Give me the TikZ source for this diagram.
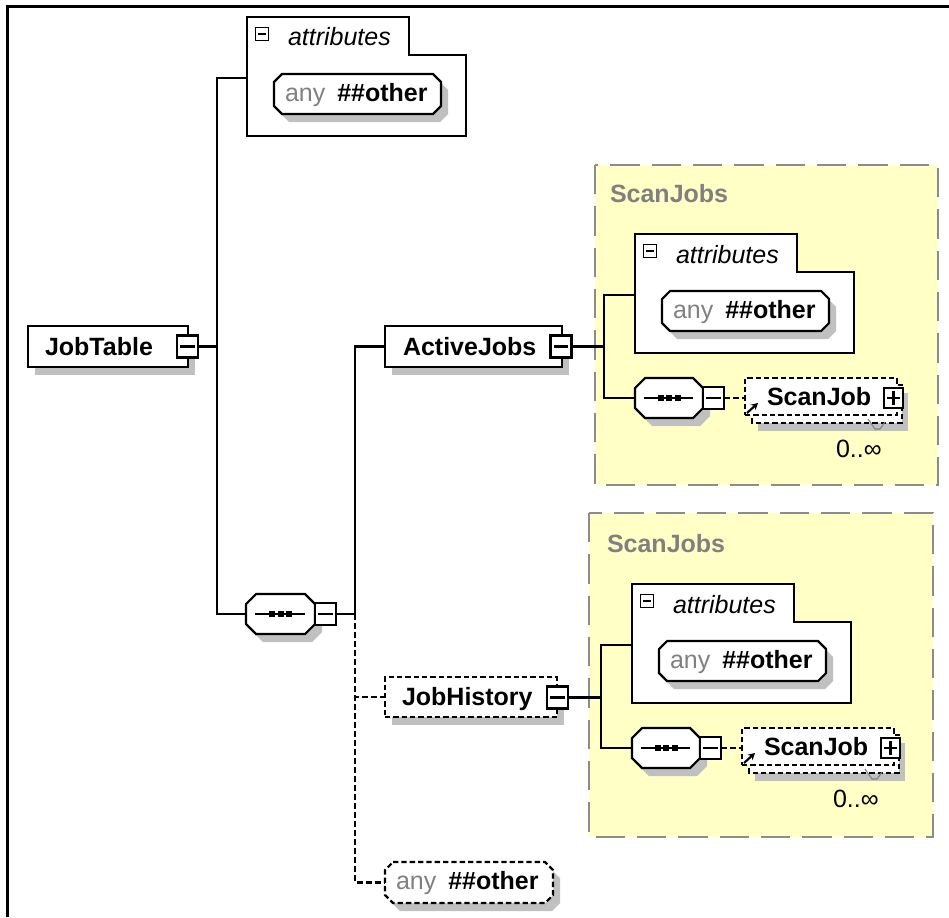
\documentclass[tikz,border=0pt]{standalone}
\usepackage{fontspec}
\setmainfont{Liberation Sans}
\usetikzlibrary{calc,arrows.meta}
\AtBeginDocument{\fontsize{18.75pt}{22pt}\selectfont}

\definecolor{groupfill}{HTML}{FFFFC6}
\definecolor{groupline}{HTML}{8C8C8C}
\definecolor{labelgray}{HTML}{808080}
\definecolor{shadowgray}{HTML}{C0C0C0}

\tikzset{
  elemline/.style={line width=1.6pt, draw=black},
  conn/.style={line width=1.6pt},
  dconn/.style={line width=1.6pt, dash pattern=on 4.5pt off 2.25pt},
  dashedge/.style={dash pattern=on 4pt off 2.25pt},
  shadowfill/.style={fill=shadowgray, draw=none},
  hold/.style={inner sep=0pt, outer sep=0pt, draw=none},
  elembox/.style={hold, elemline, fill=white},
  lbl/.style={inner sep=0pt, outer sep=0pt, anchor=base west},
  togglebox/.style={hold, draw, line width=1.6pt, fill=white,
    minimum width=21*.75pt, minimum height=22*.75pt},
  minussign/.style={path picture={\draw[line width=1.6pt]
    ([xshift=2.5pt]path picture bounding box.west) --
    ([xshift=-2.5pt]path picture bounding box.east);}},
  plussign/.style={path picture={\draw[line width=1.6pt]
    ([xshift=2.5pt]path picture bounding box.west) --
    ([xshift=-2.5pt]path picture bounding box.east)
    ([yshift=-2.5pt]path picture bounding box.north) --
    ([yshift=2.5pt]path picture bounding box.south);}},
  smallminus/.style={path picture={\draw[line width=1.4pt]
    ([xshift=1.8pt]path picture bounding box.west) --
    ([xshift=-1.8pt]path picture bounding box.east);}},
  groupframe/.style={fill=groupfill, draw=groupline, line width=1.5pt,
    dash pattern=on 22pt off 9pt},
}

% octagon with cut corners: style, x1, y1, x2, y2, cut
\newcommand\octpath[6]{%
  \path[#1] ({(#2)+(#6)},{#3}) -- ({(#4)-(#6)},{#3}) -- ({#4},{(#3)+(#6)})
    -- ({#4},{(#5)-(#6)}) -- ({(#4)-(#6)},{#5}) -- ({(#2)+(#6)},{#5})
    -- ({#2},{(#5)-(#6)}) -- ({#2},{(#3)+(#6)}) -- cycle;}

% rectangular element with drop shadow: name, x1, y1, x2, y2, edge style
\newcommand\rectelem[6]{%
  \fill[shadowfill] ({(#2)+7},{(#3)+8}) rectangle ({(#4)+7},{(#5)+8});
  \node[elembox, #6, minimum width={((#4)-(#2))*.75pt},
    minimum height={((#5)-(#3))*.75pt}]
    (#1) at ({((#2)+(#4))/2},{((#3)+(#5))/2}) {};}

% wildcard "any ##other": name, x1, y1, x2, y2, edge style
\newcommand\anyelem[6]{%
  \octpath{shadowfill}{(#2)+7}{(#3)+8}{(#4)+7}{(#5)+8}{8}
  \octpath{elemline, fill=white, #6}{#2}{#3}{#4}{#5}{8}
  \node[hold, minimum width={((#4)-(#2))*.75pt},
    minimum height={((#5)-(#3))*.75pt}]
    (#1) at ({((#2)+(#4))/2},{((#3)+(#5))/2}) {};
  \node[lbl] (#1text) at ({(#2)+11},{((#3)+(#5))/2+7})
    {\textcolor{labelgray}{any}\hspace{9pt}\textbf{\#\#other}};}

% sequence compositor with its collapse box: name, x1, y1, x2, y2
\newcommand\seqelem[5]{%
  \octpath{shadowfill}{(#2)+7}{(#3)+8}{(#4)+7}{(#5)+8}{10}
  \octpath{elemline, fill=white}{#2}{#3}{#4}{#5}{10}
  \node[hold, minimum width={((#4)-(#2))*.75pt},
    minimum height={((#5)-(#3))*.75pt}]
    (#1) at ({((#2)+(#4))/2},{((#3)+(#5))/2}) {};
  \draw[line width=1.6pt] ({(#2)+9},{((#3)+(#5))/2}) -- ({(#4)-10},{((#3)+(#5))/2});
  \foreach \k in {-8.5,0,8.5}
    \fill ({((#2)+(#4))/2+\k-3},{((#3)+(#5))/2-3}) rectangle ++(6,6);
  \node[togglebox, minussign] (#1tog) at ({(#4)+10.5},{((#3)+(#5))/2}) {};}

% attributes container: name, x and y of the tab's top left corner
\newcommand\attrsbox[3]{%
  \draw[elemline, fill=white] (#2,#3) -- ++(162,0) -- ++(0,38) -- ++(57,0)
    -- ++(0,81) -- ++(-219,0) -- cycle;
  \node[hold, minimum width=219*.75pt, minimum height=124*.75pt]
    (#1) at ({(#2)+109.5},{(#3)+61}) {};
  \node[hold, draw, line width=1.4pt, fill=white, smallminus,
    minimum width=13*.75pt, minimum height=13*.75pt]
    (#1tog) at ({(#2)+15},{(#3)+17}) {};
  \node[lbl, font=\itshape] (#1title) at ({(#2)+41},{(#3)+29}) {attributes};
  \anyelem{#1any}{(#2)+27}{(#3)+57}{(#2)+194}{(#3)+97}{}}

% complex type group: name, frame x, y, w, h, content origin x, y
\newcommand\scanjobsgroup[7]{%
  \filldraw[groupframe] (#2,#3) rectangle ++(#4,#5);
  \begin{scope}[shift={(#6,#7)}]
    \node[lbl, font=\bfseries, text=labelgray] (#1label) at (15,37) {ScanJobs};
    \attrsbox{#1attrs}{40}{69}
    \seqelem{#1seq}{40}{213}{108}{253}
    % repeated element: a second outline behind the first one
    \fill[shadowfill] (163,228) rectangle (313,266);
    \draw[elemline, dashedge, fill=white] (157,220) rectangle (307,258);
    \node[elembox, dashedge, minimum width=152*.75pt, minimum height=37*.75pt]
      (#1scanjob) at (226,231.5) {};
    \node[lbl, font=\bfseries] (#1scanjobtext) at (172,240) {ScanJob};
    \node[togglebox, plussign, minimum width=19*.75pt, minimum height=20*.75pt]
      (#1scanjobtog) at (298.5,233) {};
    \draw[line width=1.6pt, -{Stealth[length=5pt,width=5.5pt]}] (152,248) -- (163,238);
    \draw[line width=.8pt, draw=labelgray] (273,254) -- (280,264) -- (285,264) -- (290,257);
    \node[lbl] (#1card) at (241,292) {0..∞};
    \coordinate (#1trunk) at (9,181);
  \end{scope}
  \draw[conn] (#1attrs.west) -| (#1trunk) |- (#1seq.west);
  \draw[dconn] (#1seqtog.east) -- (#1seqtog.east -| #1scanjob.west);}

\begin{document}
\begin{tikzpicture}[x=.75pt,y=-.75pt]
\useasboundingbox (0,0) rectangle (949,917);

% window border
\draw[line width=2pt] (7.5,917) -- (7.5,6.5) -- (949,6.5);

% the two ScanJobs type groups
\scanjobsgroup{gA}{595}{165}{343}{320}{595}{165}
\scanjobsgroup{gB}{589}{513}{344}{324}{592}{515}

% root element JobTable
\attrsbox{topattrs}{247}{17}
\rectelem{jobtable}{28}{326}{188}{367}{}
\node[togglebox, minussign] (jobtabletog) at (187.5,346.5) {};
\node[lbl, font=\bfseries] (jobtabletext) at (45,355) {JobTable};
\seqelem{mainseq}{246}{594}{315}{634}

% children of the sequence
\rectelem{activejobs}{385}{326}{562}{367}{}
\node[togglebox, minussign] (activejobstog) at (561,346.5) {};
\node[lbl, font=\bfseries] (activejobstext) at (403,355) {ActiveJobs};

\rectelem{jobhistory}{385}{677}{557}{717}{dashedge}
\node[togglebox, minussign] (jobhistorytog) at (557.5,697.5) {};
\node[lbl, font=\bfseries] (jobhistorytext) at (402,705) {JobHistory};

\anyelem{otherany}{385}{862}{553}{903}{dashedge}

% connectors
\coordinate (trunkA) at (217,614);
\coordinate (trunkB) at (355,614);
\draw[conn] (topattrs.west) -| (trunkA) -- (mainseq.west);
\draw[conn] (jobtabletog.east) -- (jobtabletog.east -| trunkA);
\draw[conn] (activejobs.west) -| (trunkB) -- (mainseqtog.east);
\draw[dconn] (trunkB) |- (jobhistory.west);
\draw[dconn] (trunkB) |- (otherany.west);
\draw[conn] (activejobstog.east) -- (activejobstog.east -| gAtrunk);
\draw[conn] (jobhistorytog.east) -- (jobhistorytog.east -| gBtrunk);
\end{tikzpicture}
\end{document}
